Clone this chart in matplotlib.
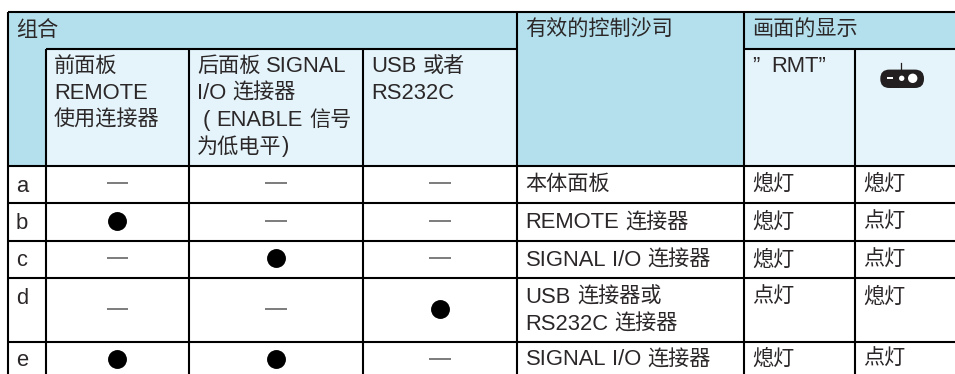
import re
import matplotlib
matplotlib.use("Agg")
import matplotlib.pyplot as plt
from matplotlib.font_manager import FontProperties
from matplotlib.patches import Rectangle, FancyBboxPatch, Circle

# ---- content ----
group_title = "组合"
console_title = "有效的控制沙司"
display_title = "画面的显示"
sub_headers = ["前面板\nREMOTE\n使用连接器", "后面板 SIGNAL\nI/O 连接器\n ( ENABLE 信号\n为低电平)", "USB 或者\nRS232C"]
rmt_header = "”  RMT”"
row_labels = ["a", "b", "c", "d", "e"]
front_remote = [0, 1, 0, 0, 1]
rear_signal = [0, 0, 1, 0, 1]
usb_rs232 = [0, 0, 0, 1, 0]
consoles = ["本体面板", "REMOTE 连接器", "SIGNAL I/O 连接器", "USB 连接器或\nRS232C 连接器", "SIGNAL I/O 连接器"]
rmt_state = ["熄灯", "熄灯", "熄灯", "点灯", "熄灯"]
icon_state = ["熄灯", "点灯", "点灯", "熄灯", "点灯"]

# ---- layout (pixels) ----
W, H = 955, 374
X = [7.8, 46, 188.8, 362.6, 516.8, 744, 855, 955]
Y = [11.5, 49, 165.5, 203, 240.6, 278, 342, 374]
C_HEAD, C_SUB, C_TXT = "#b3e0ec", "#e4f4fa", "#2b2728"
FS_CJK = 15.2
FS_LAT = 15.8
LW = 1.5
FP_CJK = FontProperties(family="Noto Sans CJK SC", size=FS_CJK)
FP_LAT = FontProperties(family="Liberation Sans", size=FS_LAT)

fig = plt.figure(figsize=(W / 100, H / 100), dpi=100)
ax = fig.add_axes([0, 0, 1, 1])
ax.set_xlim(0, W)
ax.set_ylim(H, 0)
ax.axis("off")
renderer = fig.canvas.get_renderer()

def lat_width(s):
    w = lambda t: renderer.get_text_width_height_descent(t, FP_LAT, False)[0]
    return w("x" + s + "x") - w("xx")

def text(x, y, s):
    """Draw mixed text on one baseline, Latin and CJK runs at their own sizes."""
    for run in re.findall(r"[\u3000-\u9fff]+| +|[^ \u3000-\u9fff]+", s):
        if run[0] == " ":
            x += 6.1 * len(run)
        elif "\u3000" <= run[0] <= "\u9fff":
            ax.text(x, y, run, fontproperties=FP_CJK, color=C_TXT, va="baseline", ha="left", zorder=4)
            x += len(run) * FS_CJK * 100 / 72
        else:
            ax.text(x, y, run, fontproperties=FP_LAT, color=C_TXT, va="baseline", ha="left", zorder=4)
            x += lat_width(run)

def ml_text(x, y, s, step=26.7):
    for i, part in enumerate(s.split("\n")):
        text(x, y + i * step, part)

def rect(x0, y0, x1, y1, color):
    ax.add_patch(Rectangle((x0, y0), x1 - x0, y1 - y0, fc=color, ec="none", zorder=1))

# fills
rect(X[0], Y[0], X[7], Y[1], C_HEAD)
rect(X[0], Y[1], X[1], Y[2], C_HEAD)
rect(X[4], Y[0], X[5], Y[2], C_HEAD)
rect(X[1], Y[1], X[4], Y[2], C_SUB)
rect(X[5], Y[1], X[7], Y[2], C_SUB)

# grid lines
def hl(y, x0, x1):
    ax.plot([x0, x1], [y, y], color="black", lw=LW, solid_capstyle="butt", zorder=3)
def vl(x, y0, y1):
    ax.plot([x, x], [y0, y1], color="black", lw=LW, solid_capstyle="butt", zorder=3)

hl(Y[0], X[0], X[7])
hl(Y[1], X[1], X[4])
hl(Y[1], X[5], X[7])
for y in Y[2:7]:
    hl(y, X[0], X[7])
vl(X[0], Y[0], Y[7])
vl(X[1], Y[1], Y[7])
vl(X[2], Y[1], Y[7])
vl(X[3], Y[1], Y[7])
vl(X[4], Y[0], Y[7])
vl(X[5], Y[0], Y[7])
vl(X[6], Y[1], Y[7])

# headers
BASE_HEAD = 36.2
text(16, BASE_HEAD, group_title)
text(525.5, BASE_HEAD, console_title)
text(752, BASE_HEAD, display_title)
for x, s in zip([54, 197, 371.5], sub_headers):
    ml_text(x, 72.3, s)
text(752, 72.3, rmt_header)

# signal icon (drawn symbol from the reference)
ax.add_patch(FancyBboxPatch((880.3, 69.6), 43.7, 18.4, boxstyle="round,pad=0,rounding_size=9", fc="#231f20", ec="none", zorder=4))
ax.plot([901, 901], [63, 71], color="#231f20", lw=0.9, zorder=4)
ax.add_patch(Rectangle((887.3, 77), 6, 2, fc="white", ec="none", zorder=5))
ax.add_patch(Circle((901.7, 78.3), 2.7, fc="white", ec="none", zorder=5))
ax.add_patch(Circle((912.7, 78.3), 4.7, fc="white", ec="none", zorder=5))

# body rows
row_mark_y = [182.7, 220.7, 258, 308.7, 358.7]
col_cx = [117.3, 276, 440]
for c, col in enumerate([front_remote, rear_signal, usb_rs232]):
    for r, v in enumerate(col):
        cy = row_mark_y[r]
        if v:
            ax.plot([col_cx[c]], [cy], marker="o", ms=13.6, color="black", mew=0, zorder=4)
        else:
            ax.plot([col_cx[c] - 10.8, col_cx[c] + 10.8], [cy, cy], color="#666666", lw=1.2, solid_capstyle="butt", zorder=4)

row_base = [190, 228.3, 265.8, 303, 365.3]
label_base = [191.5, 229, 266.5, 303.5, 366]
for r, lab in enumerate(row_labels):
    text(16, label_base[r], lab)
    ml_text(525.5, row_base[r], consoles[r], step=26.5)
    text(752, row_base[r], rmt_state[r])
    text(863, row_base[r], icon_state[r])

fig.savefig("out.png", dpi=100, facecolor="white")
